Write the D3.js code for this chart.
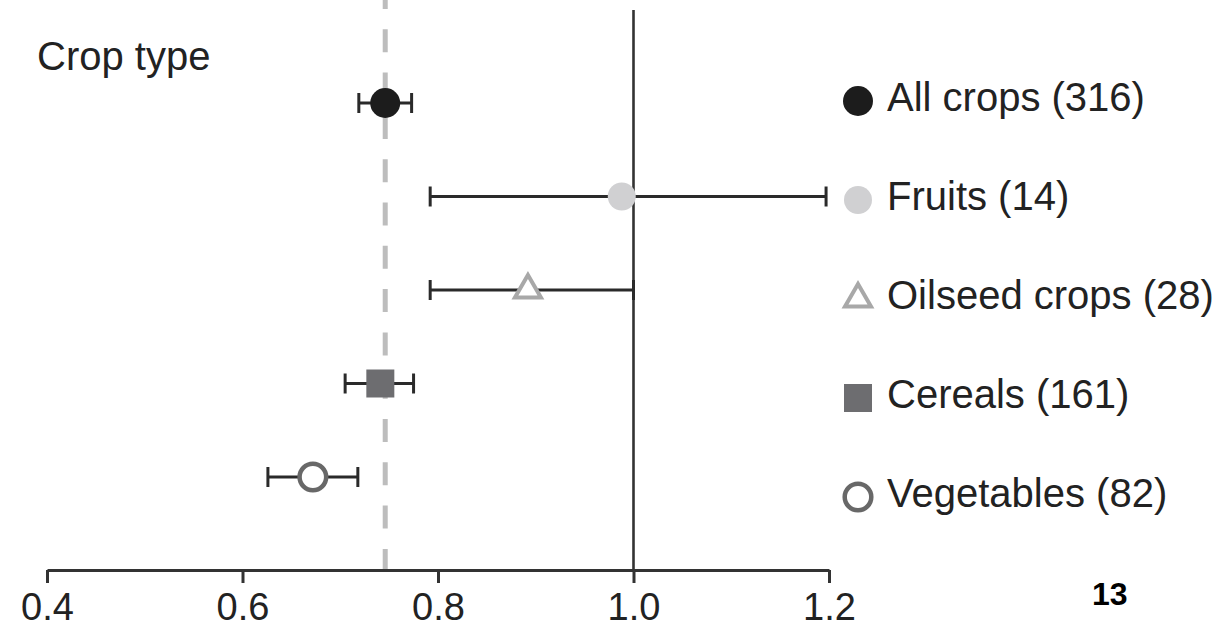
<!DOCTYPE html>
<html>
<head>
<meta charset="utf-8">
<script src="https://cdn.jsdelivr.net/npm/d3@7"></script>
<style>
  html, body { margin: 0; padding: 0; background: #fff; }
  svg { display: block; }
  text { font-family: "Liberation Sans", Arial, Helvetica, sans-serif; fill: #222; }
</style>
</head>
<body>
<svg id="chart" width="1225" height="629"></svg>
<script>
// ---- data ----
const categories = ["All crops", "Fruits", "Oilseed crops", "Cereals", "Vegetables"];
const counts = [316, 14, 28, 161, 82];
const means = [0.746, 0.988, 0.892, 0.741, 0.672];
const lower = [0.719, 0.792, 0.792, 0.705, 0.626];
const upper = [0.773, 1.197, 1.000, 0.775, 0.718];
const xTicks = [0.4, 0.6, 0.8, 1.0, 1.2];
const referenceValue = 0.746;   // dashed line (all crops mean)
const nullValue = 1.0;          // solid vertical line
const panelTitle = "Crop type";
const pageNumber = "13";

// ---- styling per category ----
const markerStyle = {
  "All crops":     { shape: "circle", fill: "#1c1c1c", stroke: "none", sw: 0, size: 15 },
  "Fruits":        { shape: "circle", fill: "#d0d0d2", stroke: "none", sw: 0, size: 14 },
  "Oilseed crops": { shape: "triangle", fill: "#fff", stroke: "#a8a8a8", sw: 4, size: 26 },
  "Cereals":       { shape: "square", fill: "#6d6d70", stroke: "none", sw: 0, size: 28 },
  "Vegetables":    { shape: "circle", fill: "#fff", stroke: "#686868", sw: 4.5, size: 13.3 }
};

const svg = d3.select("#chart");

const x = d3.scaleLinear().domain([0.4, 1.2]).range([47, 829]);
const y = d3.scalePoint().domain(categories).range([103, 477]);
const yLeg = d3.scalePoint().domain(categories).range([101, 497]);
const axisY = 570;

// dashed reference line
svg.append("line")
  .attr("x1", x(referenceValue)).attr("x2", x(referenceValue))
  .attr("y1", -14).attr("y2", axisY)
  .attr("stroke", "#bdbdbd").attr("stroke-width", 5)
  .attr("stroke-dasharray", "23,20.3");

// solid line at 1.0
svg.append("line")
  .attr("x1", x(nullValue)).attr("x2", x(nullValue))
  .attr("y1", 10).attr("y2", axisY)
  .attr("stroke", "#333").attr("stroke-width", 2.6);

// axis
const axis = d3.axisBottom(x)
  .tickValues(xTicks)
  .tickFormat(d3.format(".1f"))
  .tickSize(13)
  .tickSizeOuter(0)
  .tickPadding(10);
const gAxis = svg.append("g").attr("transform", `translate(0,${axisY})`).call(axis);
gAxis.select(".domain").attr("stroke", "#333").attr("stroke-width", 3);
gAxis.selectAll(".tick line").attr("stroke", "#333").attr("stroke-width", 3);
gAxis.selectAll(".tick text")
  .attr("fill", "#222")
  .style("font-family", '"Liberation Sans", Arial, sans-serif')
  .style("font-size", "38px");

// error bars
const rows = categories.map((c, i) => ({ cat: c, n: counts[i], mean: means[i], lo: lower[i], hi: upper[i] }));
const capH = 10;
const eb = svg.append("g").attr("stroke", "#2a2a2a").attr("stroke-width", 3);
rows.forEach(d => {
  eb.append("line").attr("x1", x(d.lo)).attr("x2", x(d.hi)).attr("y1", y(d.cat)).attr("y2", y(d.cat));
  eb.append("line").attr("x1", x(d.lo)).attr("x2", x(d.lo)).attr("y1", y(d.cat) - capH).attr("y2", y(d.cat) + capH);
  eb.append("line").attr("x1", x(d.hi)).attr("x2", x(d.hi)).attr("y1", y(d.cat) - capH).attr("y2", y(d.cat) + capH);
});

function drawMarker(g, cat, cx, cy) {
  const s = markerStyle[cat];
  if (s.shape === "circle") {
    g.append("circle").attr("cx", cx).attr("cy", cy).attr("r", s.size)
      .attr("fill", s.fill).attr("stroke", s.stroke).attr("stroke-width", s.sw);
  } else if (s.shape === "square") {
    g.append("path").attr("d", d3.symbol(d3.symbolSquare, s.size * s.size)())
      .attr("transform", `translate(${cx},${cy})`)
      .attr("fill", s.fill);
  } else if (s.shape === "triangle") {
    g.append("path").attr("d", d3.symbol(d3.symbolTriangle, Math.sqrt(3) / 4 * s.size * s.size)())
      .attr("transform", `translate(${cx},${cy})`)
      .attr("fill", s.fill).attr("stroke", s.stroke).attr("stroke-width", s.sw)
      .attr("stroke-linejoin", "miter");
  }
}

// markers
const gm = svg.append("g");
rows.forEach(d => drawMarker(gm, d.cat, x(d.mean), y(d.cat)));

// panel title
svg.append("text").attr("x", 37).attr("y", 70)
  .style("font-size", "40px").text(panelTitle);

// legend
const gl = svg.append("g");
rows.forEach(d => {
  const cy = yLeg(d.cat);
  drawMarker(gl, d.cat, 858, cy);
  gl.append("text").attr("x", 887).attr("y", cy + 10)
    .style("font-size", "40px")
    .text(`${d.cat} (${d.n})`);
});

// page number
svg.append("text").attr("x", 1092).attr("y", 605)
  .style("font-size", "32px").style("font-weight", "bold")
  .style("fill", "#000")
  .text(pageNumber);
</script>
</body>
</html>
